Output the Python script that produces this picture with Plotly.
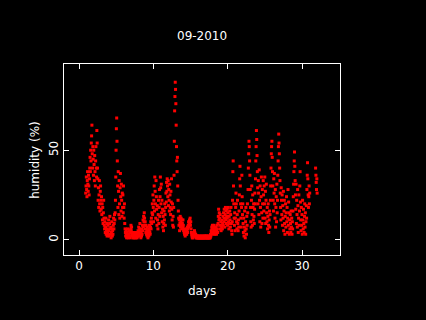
import plotly.graph_objects as go

# Humidity readings, hourly, one row per day starting at day 0.9
start_day = 0.9
step = 1 / 24
humidity_rows = [
    [26, 30, 35, 28, 24, 33, 38, 31, 27, 36, 30, 25, 34, 40, 46, 38, 50, 44, 54, 58, 64, 48, 40, 52],
    [45, 36, 50, 42, 33, 47, 38, 30, 44, 52, 40, 35, 61, 54, 40, 34, 22, 29, 18, 25, 33, 20, 16, 27],
    [30, 22, 17, 24, 14, 20, 11, 18, 9, 15, 22, 12, 8, 6, 10, 4, 7, 12, 3, 5, 9, 2, 6, 4],
    [8, 3, 11, 5, 2, 9, 13, 6, 3, 7, 1, 4, 10, 6, 2, 5, 3, 8, 12, 6, 9, 14, 11, 15],
    [22, 35, 50, 62, 68, 55, 44, 30, 18, 38, 27, 14, 33, 20, 12, 29, 37, 24, 16, 31, 22, 13, 26, 18],
    [25, 15, 30, 18, 12, 20, 9, 6, 4, 2, 5, 3, 1, 4, 2, 6, 3, 1, 2, 5, 3, 2, 4, 1],
    [4, 6, 8, 5, 7, 3, 2, 4, 1, 3, 2, 1, 3, 2, 4, 1, 2, 3, 1, 2, 4, 2, 1, 3],
    [2, 5, 3, 7, 4, 2, 6, 9, 5, 3, 1, 4, 2, 6, 3, 8, 5, 11, 7, 13, 10, 15, 12, 8],
    [10, 6, 4, 8, 3, 5, 2, 7, 4, 1, 3, 6, 2, 5, 8, 4, 3, 7, 10, 6, 12, 9, 15, 20],
    [14, 25, 18, 10, 22, 30, 16, 35, 27, 20, 12, 33, 24, 17, 8, 19, 11, 6, 14, 22, 9, 18, 28, 13],
    [24, 35, 29, 20, 31, 15, 22, 10, 17, 7, 13, 5, 9, 16, 11, 20, 14, 8, 18, 26, 21, 32, 27, 34],
    [30, 24, 33, 19, 28, 22, 16, 31, 25, 18, 14, 27, 21, 34, 17, 11, 20, 8, 13, 7, 18, 36, 55, 72],
    [80, 88, 84, 76, 64, 52, 44, 38, 46, 30, 22, 16, 12, 8, 11, 5, 9, 13, 7, 10, 12, 8, 6, 11],
    [9, 7, 11, 8, 5, 6, 4, 3, 5, 2, 4, 3, 6, 4, 3, 5, 7, 4, 6, 8, 10, 7, 9, 11],
    [9, 12, 8, 10, 6, 4, 3, 2, 1, 2, 1, 3, 2, 4, 3, 5, 4, 3, 2, 3, 1, 2, 1, 2],
    [1, 2, 1, 1, 2, 1, 1, 1, 2, 1, 1, 1, 2, 1, 1, 2, 1, 1, 1, 2, 1, 1, 1, 2],
    [1, 2, 1, 1, 2, 1, 2, 1, 1, 1, 2, 1, 1, 2, 1, 1, 1, 2, 1, 3, 2, 5, 4, 7],
    [6, 8, 4, 7, 3, 5, 8, 6, 4, 3, 5, 7, 4, 6, 3, 5, 8, 6, 4, 9, 13, 17, 11, 15],
    [12, 8, 14, 6, 10, 5, 8, 7, 11, 6, 9, 13, 8, 15, 10, 17, 12, 7, 14, 18, 11, 16, 9, 13],
    [17, 12, 8, 15, 18, 10, 6, 13, 9, 16, 11, 7, 14, 18, 9, 5, 3, 10, 22, 38, 44, 30, 20, 12],
    [8, 15, 5, 12, 18, 26, 20, 10, 6, 14, 22, 9, 5, 11, 7, 16, 25, 34, 41, 30, 20, 12, 7, 18],
    [36, 24, 14, 20, 9, 4, 12, 2, 7, 16, 5, 1, 10, 18, 6, 3, 13, 8, 20, 15, 28, 40, 48, 55],
    [52, 44, 36, 28, 18, 10, 7, 22, 30, 14, 8, 25, 18, 11, 20, 13, 9, 17, 26, 20, 34, 44, 52, 61],
    [56, 47, 38, 29, 20, 33, 26, 14, 39, 22, 10, 30, 18, 7, 24, 35, 15, 9, 28, 20, 12, 33, 25, 16],
    [30, 20, 35, 12, 27, 9, 22, 31, 15, 10, 18, 6, 13, 20, 8, 4, 11, 16, 7, 14, 22, 30, 40, 48],
    [52, 55, 46, 38, 30, 22, 16, 34, 26, 37, 20, 12, 28, 7, 18, 24, 10, 31, 15, 22, 36, 44, 52, 59],
    [54, 48, 40, 33, 26, 18, 11, 29, 22, 14, 25, 8, 19, 12, 27, 5, 16, 22, 9, 3, 13, 20, 7, 15],
    [24, 10, 18, 4, 12, 28, 8, 21, 15, 3, 11, 6, 14, 9, 4, 16, 7, 12, 3, 10, 6, 16, 24, 31],
    [38, 44, 49, 41, 33, 25, 17, 31, 9, 22, 14, 7, 28, 19, 4, 12, 25, 8, 16, 30, 38, 21, 11, 5],
    [18, 8, 14, 3, 22, 11, 6, 17, 9, 4, 13, 20, 7, 15, 3, 10, 19, 12, 28, 36, 43, 34, 25, 18],
    [24, 30, 20, 26, None, None, None, None, None, None, None, None, None, None, None, None,
     None, None, None, None, None, None, 40, 36],
    [32, 28, 34, 26],
]

x_ticks = [0, 10, 20, 30]
y_ticks = [0, 50]
title_text = "09-2010"
x_label = "days"
y_label = "humidity (%)"

humidity = [v for row in humidity_rows for v in row]
days = [start_day + i * step for i in range(len(humidity))]

font = dict(family="DejaVu Sans", size=12, color="white")

fig = go.Figure()
fig.add_trace(go.Scatter(
    x=days, y=humidity, mode="markers",
    marker=dict(color="#ff0000", symbol="square", size=3, line=dict(width=0)),
    hoverinfo="skip", showlegend=False,
))

axis_common = dict(
    showline=True, linecolor="white", linewidth=1, mirror="ticks",
    ticks="inside", ticklen=5, tickcolor="white", tickwidth=1,
    showgrid=False, zeroline=False, tickfont=font,
)

fig.update_layout(
    width=426, height=320,
    paper_bgcolor="black", plot_bgcolor="black",
    margin=dict(l=64, r=86, t=64, b=65),
    font=font,
    xaxis=dict(range=[-2.02, 35.1], tickvals=x_ticks, ticktext=[str(t) for t in x_ticks],
               **axis_common),
    yaxis=dict(range=[-8.6, 98.2], tickvals=y_ticks, ticktext=[str(t) for t in y_ticks],
               tickangle=-90, **axis_common),
    annotations=[
        dict(text=title_text, x=0.5, y=1.1468, xref="paper", yref="paper",
             showarrow=False, font=dict(family="DejaVu Sans", size=12, color="white"),
             xanchor="center", yanchor="middle"),
        dict(text=x_label, x=0.5, y=-0.1888, xref="paper", yref="paper",
             showarrow=False, font=font, xanchor="center", yanchor="middle"),
        dict(text=y_label, x=-0.1062, y=0.4966, xref="paper", yref="paper",
             showarrow=False, font=font, textangle=-90, xanchor="center", yanchor="middle"),
    ],
)

fig.write_html("out.html",
               config={"displayModeBar": False},
               post_script="document.body.style.margin='0';document.body.style.background='black';")
